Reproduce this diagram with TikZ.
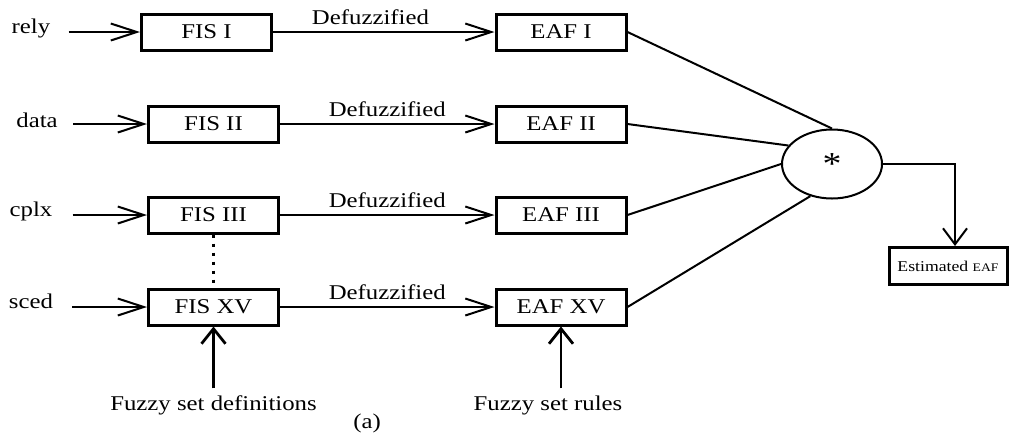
\documentclass[tikz,border=0pt]{standalone}
\usepackage{fontspec}
\setmainfont[FakeStretch=1.18]{Liberation Serif}
\usetikzlibrary{arrows.meta,shapes.geometric}

\tikzset{
  fisbox/.style={draw, line width=1.5pt, minimum width=65pt, minimum height=18pt, inner sep=0pt},
  inlabel/.style={inner sep=0pt, anchor=base},
  wire/.style={line width=1pt},
  harr/.style={wire, -{Straight Barb[length=13pt,width=8.5pt]}},
  varr/.style={line width=1.4pt, -{Straight Barb[length=7.5pt,width=12pt]}},
}

\begin{document}
\begin{tikzpicture}[x=0.5pt, y=-0.5pt, font=\fontsize{10.5}{12}\selectfont]
                \useasboundingbox (0,0) rectangle (1011,435);

                \node[inlabel] (rely) at (31,33) {rely};
                \node[inlabel] (data) at (37,127) {data};
                \node[inlabel] (cplx) at (31,216) {cplx};
                \node[inlabel] (sced) at (31,308) {sced};

                \node[fisbox] (fis1) at (206.5,32) {FIS I};
                \node[fisbox] (fis2) at (213.5,124) {FIS II};
                \node[fisbox] (fis3) at (213.5,215) {FIS III};
                \node[fisbox] (fis15) at (213.5,307) {FIS XV};

                \node[fisbox] (eaf1) at (561,32) {EAF I};
                \node[fisbox] (eaf2) at (561,124) {EAF II};
                \node[fisbox] (eaf3) at (561,215) {EAF III};
                \node[fisbox] (eaf15) at (561,307) {EAF XV};

                \node[draw, ellipse, wire, minimum width=50pt, minimum height=34.5pt, inner sep=0pt, font=\fontsize{16}{16}\selectfont] (prod) at (832,164) {\raisebox{-0.8ex}{*}};
                \node[fisbox, minimum width=59pt, minimum height=18.5pt, font=\fontsize{7.5}{9}\selectfont] (est) at (948,266) {Estimated {\fontsize{5.8}{7}\selectfont EAF}};

                \node (fdefs) at (213.5,405) {Fuzzy set definitions};
                \node (frules) at (548,405) {Fuzzy set rules};
                \node (cap) at (367,423) {(a)};

                \draw[harr, shorten <=9pt] (rely.east |- fis1) -- (fis1);
                \draw[harr, shorten <=7.5pt] (data.east |- fis2) -- (fis2);
                \draw[harr, shorten <=10pt] (cplx.east |- fis3) -- (fis3);
                \draw[harr, shorten <=9.5pt] (sced.east |- fis15) -- (fis15);

                \draw[harr] (fis1) -- node[above, pos=0.44] {Defuzzified} (eaf1);
                \draw[harr] (fis2) -- node[above] {Defuzzified} (eaf2);
                \draw[harr] (fis3) -- node[above] {Defuzzified} (eaf3);
                \draw[harr] (fis15) -- node[above] {Defuzzified} (eaf15);

                \draw[line width=1.5pt, dash pattern=on 1.5pt off 3pt] (fis3) -- (fis15);

                \draw[wire] (eaf1.east) -- (prod.north);
                \draw[wire] (eaf2.east) -- (prod.157);
                \draw[wire] (eaf3.east) -- (prod.west);
                \draw[wire] (eaf15.east) -- (prod.236);

                \draw[wire, -{Straight Barb[length=8pt,width=12pt]}] (prod.east) -| ([xshift=3.5pt]est.north);

                \draw[varr] (fdefs.north -| fis15) -- (fis15);
                \draw[varr] (frules.north -| eaf15) -- (eaf15);
            \end{tikzpicture}
\end{document}
